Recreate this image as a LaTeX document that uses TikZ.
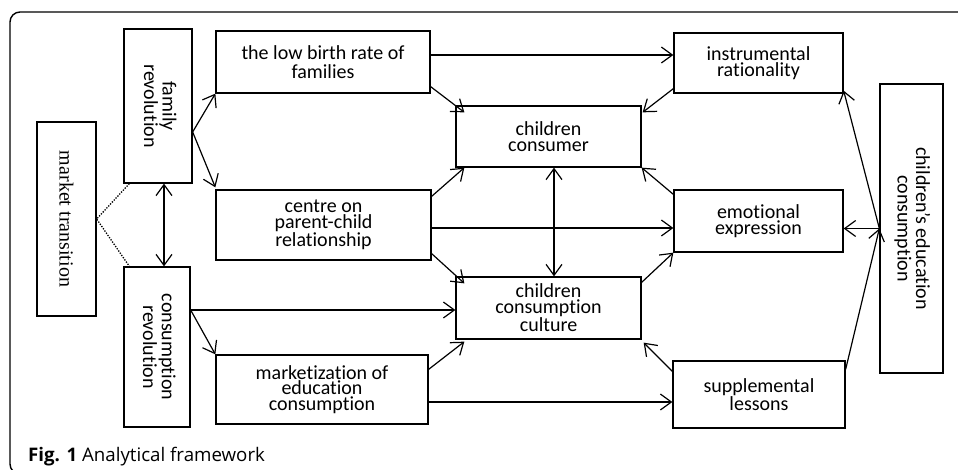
\documentclass[tikz,border=0pt]{standalone}
\usepackage{fontspec}
\setmainfont{Carlito}[RawFeature={-liga;-clig;-calt;-dlig;-rlig}]
\newfontfamily\seriffont{Liberation Serif}
\newfontfamily\capfont{Open Sans}
\usetikzlibrary{arrows.meta}
\newcommand{\vtext}[1]{\rotatebox{-90}{\begin{tabular}{@{}c@{}}#1\end{tabular}}}
\begin{document}
\begin{tikzpicture}[x=1pt,y=-1pt,
  box/.style={draw, line width=1.3pt, inner sep=0pt, align=center,
    font=\fontsize{20}{15.8}\selectfont},
  arr/.style={line width=1.2pt, -{Straight Barb[length=11pt,width=16pt,line width=1.2pt]}},
  darr/.style={line width=1.2pt, {Straight Barb[length=11pt,width=16pt,line width=1.2pt]}-{Straight Barb[length=11pt,width=16pt,line width=1.2pt]}},
  dots/.style={line width=1.3pt, dash pattern=on 1.3pt off 1.4pt},
]
\useasboundingbox (0,0) rectangle (958,470);
\draw[line width=1.4pt, rounded corners=10pt] (10,12) rectangle (1000,474);

\node[box, minimum width=59pt, minimum height=194pt] (mt) at (66.5,219)
  {\rotatebox{-90}{\seriffont market transition}};
\node[box, minimum width=68pt, minimum height=154pt] (fr) at (158,106)
  {\vtext{family\\revolution}};
\node[box, minimum width=66pt, minimum height=160pt] (cr) at (157,347)
  {\vtext{consumption\\revolution}};
\node[box, minimum width=214pt, minimum height=62pt, font=\fontsize{20}{19.5}\selectfont] (lbr) at (323,62)
  {the low birth rate of\\families};
\node[box, minimum width=215pt, minimum height=70pt] (cpc) at (323.5,225)
  {centre on\\parent-child\\relationship};
\node[box, minimum width=212pt, minimum height=69pt] (mec) at (322,389.5)
  {marketization of\\education\\consumption};
\node[box, minimum width=185pt, minimum height=61pt] (cc) at (548.5,136.5)
  {children\\consumer};
\node[box, minimum width=185pt, minimum height=62pt] (ccc) at (548.5,308)
  {children\\consumption\\culture};
\node[box, minimum width=169pt, minimum height=60pt] (ir) at (758.5,63)
  {instrumental\\rationality};
\node[box, minimum width=169pt, minimum height=62pt] (ee) at (758.5,221)
  {emotional\\expression};
\node[box, minimum width=172pt, minimum height=67pt] (sl) at (759,394.5)
  {supplemental\\lessons};
\node[box, minimum width=63pt, minimum height=289pt] (ced) at (911.5,228.5)
  {\vtext{children’s education\\consumption}};

\draw[arr] ([yshift=7pt]lbr.east) -- ([yshift=7pt]lbr.east -| ir.west);
\draw[arr] ([yshift=7pt]lbr.south east) -- ([xshift=9pt,yshift=-7pt]cc.north west);
\draw[arr] ([yshift=-26pt]fr.east) -- (lbr.south west);
\draw[arr] ([yshift=-26pt]fr.east) -- ([yshift=2pt]cpc.north west);
\draw[arr] ([yshift=-7pt]cpc.north east) -- ([xshift=9pt]cc.south west);
\draw[darr] ([xshift=6pt]fr.south) -- ([xshift=6pt]fr.south |- cr.north);
\draw[dots] ([xshift=6pt]fr.south west) -- (mt.east) -- ([xshift=6pt]cr.north west);
\draw[arr] ([yshift=-3pt]cpc.east) -- ([yshift=-3pt]cpc.east -| ee.west);
\draw[arr] ([yshift=7pt]cpc.south east) -- ([xshift=9pt,yshift=-7pt]ccc.north west);
\draw[arr] ([yshift=37pt]cr.east) -- ([yshift=37pt]cr.east -| ccc.west);
\draw[arr] ([yshift=37pt]cr.east) -- (mec.north west);
\draw[arr] ([yshift=-15pt]mec.north east) -- ([xshift=9pt,yshift=-2pt]ccc.south west);
\draw[arr] ([yshift=-12.5pt]mec.east) -- ([yshift=-12.5pt]mec.east -| sl.west);
\draw[darr] ([xshift=5.5pt]cc.south) -- ([xshift=5.5pt]cc.south |- ccc.north);
\draw[arr] ([yshift=5pt]ir.south west) -- ([xshift=1pt,yshift=-7pt]cc.north east);
\draw[arr] ([yshift=-5pt]ee.north west) -- (cc.south east);
\draw[arr] ([yshift=-6pt]ccc.north east) -- (ee.south west);
\draw[arr] ([yshift=-11pt]sl.north west) -- ([xshift=2pt,yshift=-3pt]ccc.south east);
\draw[arr] (ced.west) -- (ced.west -| ee.east);
\draw[arr] (ced.west) -- ([yshift=3pt]ir.south east);
\draw[arr] ([yshift=-9pt]sl.north east) -- (ced.west);

\node[anchor=base west, inner sep=0pt, font=\capfont\fontsize{18.7}{21}\selectfont] (cap) at (28,461.5)
  {\textbf{Fig. 1} Analytical framework};
\end{tikzpicture}
\end{document}
